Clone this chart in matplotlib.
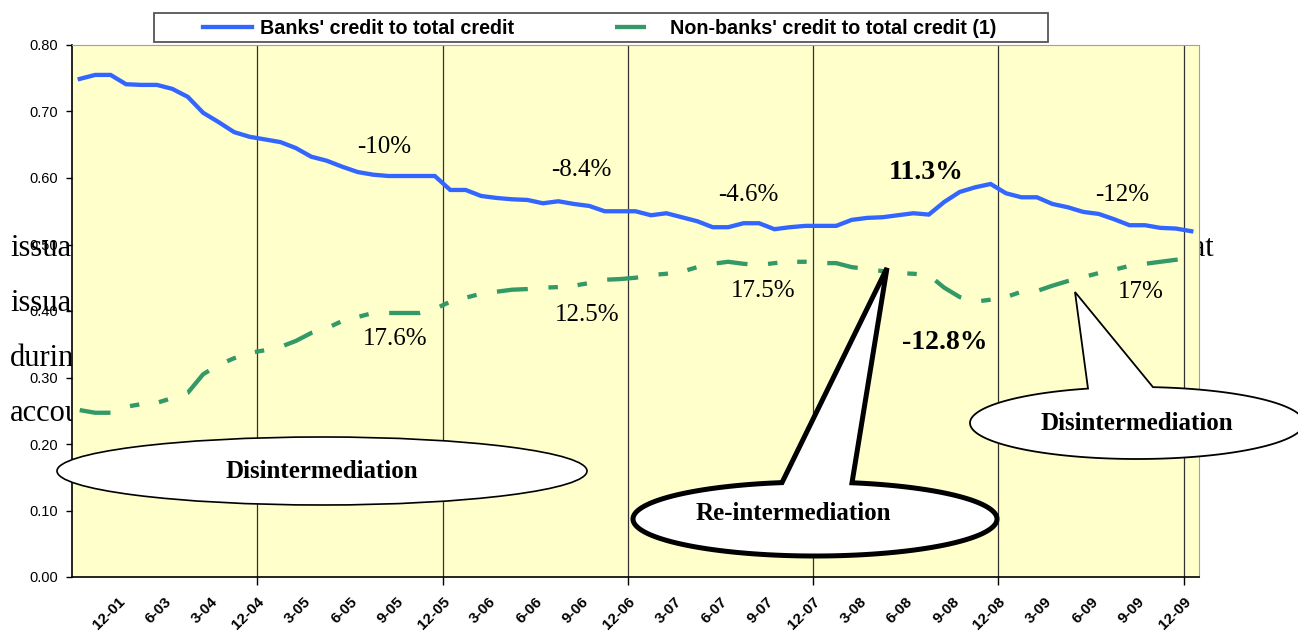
import numpy as np
import matplotlib
matplotlib.use("Agg")
import matplotlib.pyplot as plt
from matplotlib.patches import Polygon, Ellipse, Rectangle
from matplotlib.lines import Line2D

W, H = 1298, 633

# quarter labels shown under the axis (every 3rd month)
tick_labels = ["12-01", "6-03", "3-04", "12-04", "3-05", "6-05", "9-05", "12-05",
               "3-06", "6-06", "9-06", "12-06", "3-07", "6-07", "9-07", "12-07",
               "3-08", "6-08", "9-08", "12-08", "3-09", "6-09", "9-09", "12-09"]

# monthly shares
banks = [0.749, 0.755, 0.755, 0.741, 0.740, 0.740, 0.734, 0.722, 0.698, 0.684,
         0.669, 0.662, 0.658, 0.654, 0.645, 0.632, 0.626, 0.617, 0.609, 0.605,
         0.603, 0.603, 0.603, 0.603, 0.582, 0.582, 0.573, 0.570, 0.568, 0.567,
         0.562, 0.565, 0.561, 0.558, 0.550, 0.550, 0.550, 0.544, 0.547, 0.541,
         0.535, 0.526, 0.526, 0.532, 0.532, 0.523, 0.526, 0.528, 0.528, 0.528,
         0.537, 0.540, 0.541, 0.544, 0.547, 0.545, 0.564, 0.579, 0.586, 0.591,
         0.577, 0.571, 0.571, 0.561, 0.556, 0.549, 0.546, 0.538, 0.529, 0.529,
         0.525, 0.524, 0.520]

nonbanks = [0.251, 0.247, 0.247, 0.256, 0.260, 0.262, 0.269, 0.277, 0.305, 0.319,
            0.329, 0.337, 0.341, 0.346, 0.355, 0.367, 0.374, 0.385, 0.391, 0.397,
            0.397, 0.397, 0.397, 0.403, 0.414, 0.420, 0.426, 0.429, 0.432, 0.433,
            0.435, 0.436, 0.438, 0.442, 0.447, 0.448, 0.450, 0.454, 0.456, 0.459,
            0.466, 0.471, 0.474, 0.471, 0.469, 0.472, 0.474, 0.474, 0.472, 0.472,
            0.466, 0.463, 0.460, 0.457, 0.456, 0.454, 0.435, 0.421, 0.414, 0.417,
            0.421, 0.429, 0.430, 0.438, 0.445, 0.451, 0.457, 0.462, 0.468, 0.471,
            0.474, 0.477, 0.480]

blue = "#3366FF"
green = "#339966"
serif = "Liberation Serif"
sans = "Liberation Sans"

fig = plt.figure(figsize=(W / 100, H / 100), dpi=100)
fig.patch.set_facecolor("white")

# text of the page lying behind the chart
behind = [("issuance", 10, 256, "left"), ("issuance", 10, 311, "left"),
          ("during", 10, 366, "left"), ("accounted", 10, 421, "left"),
          ("that", 1214, 256, "right")]
for s, px, py, ha in behind:
    fig.text(px / W, 1 - py / H, s, family=serif, fontsize=22, ha=ha,
             va="baseline", zorder=-1)

ax = fig.add_axes([72 / W, (H - 577) / H, 1127 / W, 532 / H])
ax.set_facecolor("#FFFFCC")

n = len(banks)
x = np.arange(n) + 0.5
dash = (7.2, 4.8, 2.2, 4.6, 2.2, 4.8)
ax.plot(x, banks, color=blue, lw=3.1, solid_joinstyle="miter", zorder=3)
ax.plot(x, nonbanks, color=green, lw=3.1, dashes=dash, zorder=3)

ax.set_xlim(0, n)
ax.set_ylim(0, 0.8)
ax.set_yticks(np.arange(0, 0.81, 0.1))
ax.set_yticklabels(["%.2f" % v for v in np.arange(0, 0.81, 0.1)],
                   family=sans, fontsize=10.5)
ax.tick_params(axis="y", direction="out", length=4, width=1, pad=6)

ax.xaxis.remove_overlapping_locs = False
lab_pos = np.arange(3, n, 3)
ax.set_xticks(lab_pos)
ax.set_xticklabels(tick_labels, family=sans, fontsize=11, fontweight="bold",
                   rotation=45, ha="right", va="top", rotation_mode="anchor")
ax.tick_params(axis="x", which="major", length=0, pad=13)

year_ends = np.arange(12, n, 12)
ax.set_xticks(year_ends, minor=True)
ax.tick_params(axis="x", which="minor", direction="out", length=6, width=1)
ax.grid(which="minor", axis="x", color="#333333", lw=0.9)
ax.grid(which="major", visible=False)

for side in ["top", "right"]:
    ax.spines[side].set_color("#a0a0a0")
for side in ["left", "bottom"]:
    ax.spines[side].set_color("black")
    ax.spines[side].set_linewidth(1.2)

# growth notes
notes = [("-10%", 20.25, 0.647, "normal"), ("-8.4%", 33.0, 0.612, "normal"),
         ("-4.6%", 43.8, 0.574, "normal"), ("11.3%", 55.3, 0.609, "bold"),
         ("-12%", 68.0, 0.574, "normal"), ("17.6%", 20.96, 0.358, "normal"),
         ("12.5%", 33.4, 0.394, "normal"), ("17.5%", 44.8, 0.430, "normal"),
         ("-12.8%", 56.5, 0.353, "bold"), ("17%", 69.2, 0.429, "normal")]
for s, nx, ny, wt in notes:
    size = 20 if wt == "bold" else 18
    ax.text(nx, ny, s, family=serif, fontsize=size, fontweight=wt,
            ha="center", va="center", zorder=4)

# overlay in pixel units for legend and callouts
ov = fig.add_axes([0, 0, 1, 1], zorder=5)
ov.set_xlim(0, W)
ov.set_ylim(H, 0)
ov.axis("off")


def bubble(cx, cy, a, b, base=None, tip=None, lw=1.2):
    if tip is None:
        ov.add_patch(Ellipse((cx, cy), 2 * a, 2 * b, fc="white", ec="black", lw=lw))
        return
    t1 = -np.arccos((base[0] - cx) / a)
    t2 = -np.arccos((base[1] - cx) / a)
    ts = np.linspace(t2, t1 + 2 * np.pi, 400)
    pts = np.column_stack([cx + a * np.cos(ts), cy + b * np.sin(ts)])
    pts = np.vstack([pts, [tip]])
    ov.add_patch(Polygon(pts, closed=True, fc="white", ec="black", lw=lw,
                         joinstyle="miter"))


bubble(322, 471, 265, 34)
ov.text(322, 471, "Disintermediation", family=serif, fontsize=18,
        fontweight="bold", ha="center", va="center")

bubble(815, 519, 182, 37, base=(782, 852), tip=(887, 268), lw=3.6)
ov.text(793, 514, "Re-intermediation", family=serif, fontsize=18,
        fontweight="bold", ha="center", va="center")

bubble(1137, 423, 167, 36, base=(1088, 1153), tip=(1075, 292), lw=1.3)
ov.text(1137, 423, "Disintermediation", family=serif, fontsize=18,
        fontweight="bold", ha="center", va="center")

# legend box
ov.add_patch(Rectangle((154, 13), 894, 29, fc="white", ec="#555555", lw=1.3))
ov.add_line(Line2D([203, 252], [27, 27], color=blue, lw=3.1))
ov.text(260, 28, "Banks' credit to total credit", family=sans, fontsize=14.2,
        fontweight="bold", va="center")
ov.add_line(Line2D([615, 664], [27, 27], color=green, lw=3.1, dashes=dash))
ov.text(670, 28, "Non-banks' credit to total credit (1)", family=sans,
        fontsize=14.2, fontweight="bold", va="center")

fig.savefig("out.png", dpi=100)
